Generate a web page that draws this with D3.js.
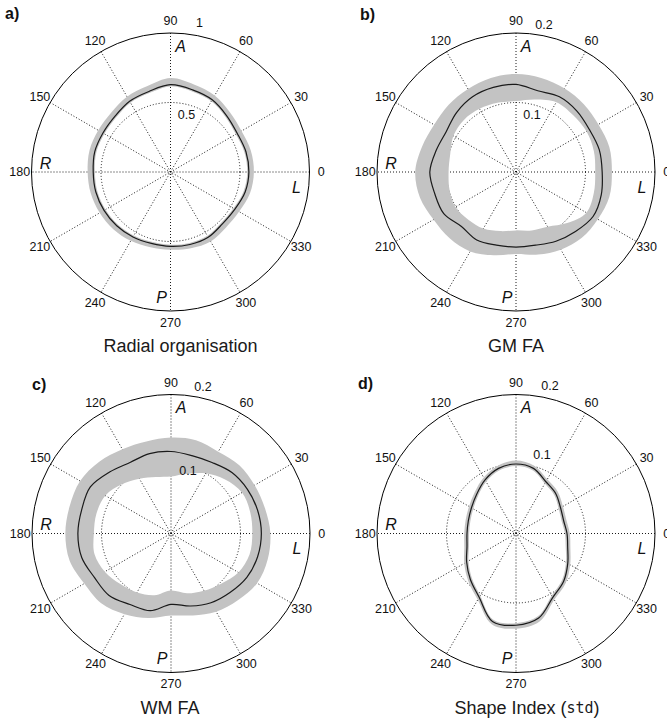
<!DOCTYPE html>
<html><head><meta charset="utf-8">
<script src="https://cdn.jsdelivr.net/npm/d3@7"></script>
<style>body{margin:0;background:#fff}svg{display:block}</style>
</head><body>
<svg id="chart" width="667" height="720"></svg>
<script>
// ---------- data ----------
const angleDeg = [0,15,30,45,60,75,90,105,120,135,150,165,180,195,210,225,240,255,270,285,300,315,330,345];
const angleTicks = [0,30,60,90,120,150,180,210,240,270,300,330];
const angleTickLabels = ["0","30","60","90","120","150","180","210","240","270","300","330"];
const orientNames = ["A","P","R","L"];
const panelLetters = ["a)","b)","c)","d)"];
const panelTitles = ["Radial organisation","GM FA","WM FA","Shape Index (std)"];
const radialMax = [1,0.2,0.2,0.2];
const radialTicks = [[0.5,1],[0.1,0.2],[0.1,0.2],[0.1,0.2]];
const radialTickLabels = [["0.5","1"],["0.1","0.2"],["0.1","0.2"],["0.1","0.2"]];

const aMean = [0.564,0.562,0.555,0.572,0.600,0.612,0.628,0.600,0.588,0.566,0.561,0.564,0.556,0.556,0.552,0.547,0.540,0.532,0.535,0.540,0.542,0.528,0.535,0.556];
const aLo   = [0.552,0.550,0.543,0.560,0.588,0.600,0.616,0.588,0.576,0.554,0.549,0.552,0.544,0.544,0.540,0.535,0.528,0.520,0.523,0.528,0.530,0.516,0.523,0.544];
const aHi   = [0.600,0.598,0.590,0.606,0.636,0.652,0.676,0.640,0.626,0.604,0.600,0.603,0.596,0.594,0.588,0.582,0.572,0.560,0.559,0.568,0.578,0.565,0.570,0.592];

const bMean = [0.124,0.124,0.122,0.124,0.125,0.121,0.126,0.126,0.125,0.121,0.116,0.119,0.124,0.121,0.120,0.111,0.113,0.109,0.108,0.109,0.115,0.121,0.128,0.127];
const bLo   = [0.114,0.116,0.117,0.116,0.116,0.108,0.102,0.103,0.105,0.106,0.104,0.098,0.097,0.099,0.101,0.097,0.094,0.088,0.084,0.087,0.091,0.104,0.117,0.116];
const bHi   = [0.138,0.139,0.137,0.138,0.139,0.140,0.141,0.140,0.138,0.137,0.136,0.140,0.145,0.143,0.137,0.135,0.132,0.124,0.118,0.123,0.129,0.134,0.136,0.139];

const cMean = [0.130,0.129,0.127,0.124,0.118,0.116,0.118,0.119,0.118,0.125,0.134,0.133,0.134,0.133,0.127,0.126,0.118,0.115,0.102,0.108,0.115,0.120,0.126,0.129];
const cLo   = [0.117,0.118,0.118,0.110,0.100,0.089,0.082,0.084,0.091,0.100,0.109,0.111,0.111,0.114,0.110,0.103,0.098,0.092,0.082,0.089,0.095,0.102,0.112,0.117];
const cHi   = [0.143,0.140,0.139,0.139,0.136,0.139,0.138,0.137,0.140,0.146,0.151,0.151,0.152,0.151,0.144,0.142,0.134,0.126,0.118,0.122,0.130,0.136,0.143,0.144];

const dMean = [0.0734,0.071,0.074,0.081,0.086,0.097,0.100,0.097,0.089,0.080,0.074,0.071,0.0705,0.073,0.082,0.093,0.106,0.131,0.132,0.126,0.106,0.097,0.086,0.077];
const dLo   = [0.0704,0.068,0.071,0.078,0.083,0.094,0.097,0.094,0.086,0.077,0.071,0.068,0.0675,0.070,0.079,0.090,0.103,0.128,0.129,0.123,0.103,0.094,0.083,0.074];
const dHi   = [0.0774,0.075,0.078,0.085,0.090,0.101,0.105,0.101,0.093,0.084,0.078,0.075,0.0745,0.077,0.086,0.097,0.110,0.135,0.137,0.131,0.110,0.101,0.090,0.081];

const means = [aMean,bMean,cMean,dMean];
const lows  = [aLo,bLo,cLo,dLo];
const highs = [aHi,bHi,cHi,dHi];

// ---------- layout ----------
const R = 139;
const layout = [
  {cx:170.5, cy:172,   lx:5,   ly:19,  tdx:10, inDx:16, inDy:-57, outDx:29, outDy:-149},
  {cx:516,   cy:172,   lx:360, ly:20,  tdx:0,  inDx:16, inDy:-57, outDx:28, outDy:-147},
  {cx:171,   cy:533.5, lx:32,  ly:390, tdx:-1, inDx:17, inDy:-63, outDx:32, outDy:-147},
  {cx:516,   cy:533.5, lx:358, ly:389, tdx:11, inDx:26, inDy:-79, outDx:34, outDy:-148}
];
const orientPos = [[10,-126],[-9,125],[-125,-9],[126,15]];

const svg = d3.select("#chart");
const font = "'Liberation Sans', Arial, Helvetica, sans-serif";
const toRad = d => d * Math.PI / 180;

layout.forEach((L, i) => {
  const g = svg.append("g").attr("transform", `translate(${L.cx},${L.cy})`);
  const r = d3.scaleLinear().domain([0, radialMax[i]]).range([0, R]);
  const pts = angleDeg.map((a, k) => ({a, m: means[i][k], lo: lows[i][k], hi: highs[i][k]}));

  // grid: spokes
  angleTicks.filter(a => a < 180).forEach(a => {
    const t = toRad(a);
    g.append("line")
      .attr("x1", R*Math.cos(t)).attr("y1", -R*Math.sin(t))
      .attr("x2", -R*Math.cos(t)).attr("y2", R*Math.sin(t))
      .attr("stroke", "#000").attr("stroke-width", 0.9).attr("stroke-dasharray", "1,2");
  });
  // inner dotted circles
  radialTicks[i].filter(v => v < radialMax[i]).forEach(v => {
    g.append("circle").attr("r", r(v)).attr("fill", "none")
      .attr("stroke", "#000").attr("stroke-width", 0.9).attr("stroke-dasharray", "1,2");
  });
  // outer circle
  g.append("circle").attr("r", r(radialMax[i])).attr("fill", "none")
    .attr("stroke", "#000").attr("stroke-width", 1);

  const line = d3.lineRadial()
    .angle(d => Math.PI/2 - toRad(d.a))
    .curve(d3.curveCatmullRomClosed.alpha(0.5));

  // band
  const outer = line.radius(d => r(d.hi))(pts);
  const inner = line.radius(d => r(d.lo))(pts);
  g.append("path").attr("d", outer + inner).attr("fill", "#c3c3c3")
    .attr("fill-rule", "evenodd").attr("stroke", "none");
  // mean line
  g.append("path").attr("d", line.radius(d => r(d.m))(pts))
    .attr("fill", "none").attr("stroke", "#1a1a1a").attr("stroke-width", 1.2);

  // angle labels
  angleTicks.forEach((a, k) => {
    const t = toRad(a), rr = R * 1.085;
    g.append("text").attr("x", rr*Math.cos(t)).attr("y", -rr*Math.sin(t))
      .attr("text-anchor", "middle").attr("dominant-baseline", "central")
      .attr("font-family", font).attr("font-size", 12.5).attr("fill", "#111")
      .text(angleTickLabels[k]);
  });
  // radial tick labels
  radialTicks[i].forEach((v, k) => {
    const isOuter = v >= radialMax[i];
    g.append("text")
      .attr("x", isOuter ? L.outDx : L.inDx)
      .attr("y", isOuter ? L.outDy : L.inDy)
      .attr("text-anchor", "middle").attr("dominant-baseline", "central")
      .attr("font-family", font).attr("font-size", 12.5).attr("fill", "#111")
      .text(radialTickLabels[i][k]);
  });
  // orientation letters
  orientNames.forEach((n, k) => {
    g.append("text").attr("x", orientPos[k][0]).attr("y", orientPos[k][1])
      .attr("text-anchor", "middle").attr("dominant-baseline", "central")
      .attr("font-family", font).attr("font-size", 16).attr("font-style", "italic")
      .attr("fill", "#111").text(n);
  });
  // title
  const title = svg.append("text").attr("x", L.cx + L.tdx).attr("y", L.cy + 174)
    .attr("text-anchor", "middle").attr("dominant-baseline", "central")
    .attr("font-family", font).attr("font-size", 18).attr("fill", "#1a1a1a");
  const m = panelTitles[i].match(/^(.*\()(.*)(\))$/);
  if (m) {
    title.append("tspan").text(m[1]);
    title.append("tspan").attr("font-family", "'DejaVu Sans Mono', monospace").attr("font-size", 15).text(m[2]);
    title.append("tspan").text(m[3]);
  } else {
    title.text(panelTitles[i]);
  }
  // panel letter
  svg.append("text").attr("x", L.lx).attr("y", L.ly)
    .attr("font-family", font).attr("font-size", 16).attr("font-weight", "bold")
    .attr("fill", "#111").text(panelLetters[i]);
});
</script>
</body></html>
